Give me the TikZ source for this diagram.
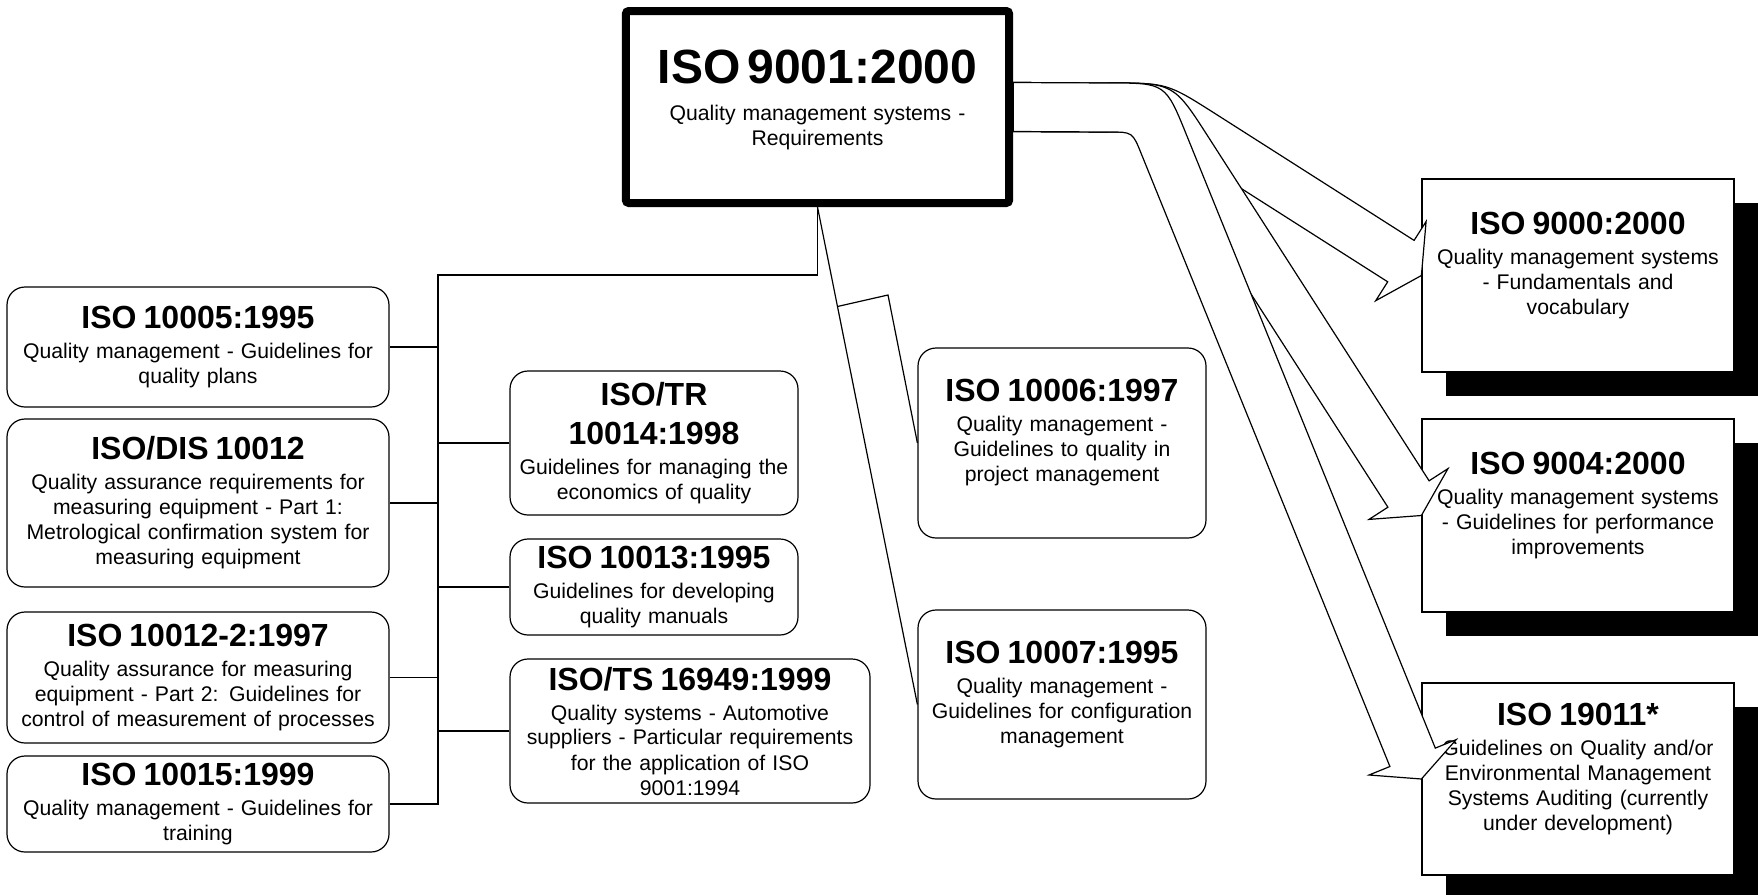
\documentclass[tikz,border=0pt]{standalone}
\usepackage{fontspec}
\setmainfont{Liberation Sans}
\usetikzlibrary{calc,shadows}
\newcommand{\isotitle}{\fontsize{16pt}{19.5pt}\selectfont\bfseries}
\newcommand{\isotext}{\fontsize{10.6pt}{12.5pt}\selectfont}
\tikzset{
  doc/.style={draw, line width=0.6pt, rounded corners=9pt, align=center, inner sep=2pt, font=\isotext},
  std/.style={draw, line width=0.6pt, fill=white, align=center, inner sep=2pt, font=\isotext,
    drop shadow={shadow xshift=12pt, shadow yshift=-12pt, fill=black, opacity=1}},
  link/.style={line width=0.6pt},
  fan/.style={draw, fill=white, line width=0.6pt},
}

\begin{document}
\begin{tikzpicture}[x=0.5pt, y=-0.5pt]
	\useasboundingbox (0,0) rectangle (1758,895);

	\node[draw, line width=4pt, rounded corners=1.5pt, minimum width=191.5pt, minimum height=96pt, text width=185pt, align=center, font=\isotext] (main) at (817.5,107)
		{{\fontsize{24pt}{28pt}\selectfont\bfseries ISO 9001:2000}\\[6pt] Quality management systems -\\ Requirements\\[-3.5pt] \mbox{}};

	\node[doc, minimum width=191pt, minimum height=60pt, text width=187pt] (n10005) at (198,347)
		{{\isotitle ISO 10005:1995}\\[2.5pt] Quality management - Guidelines for\\ quality plans};
	\node[doc, minimum width=191pt, minimum height=84pt, text width=187pt] (n10012) at (198,503)
		{{\isotitle ISO/DIS 10012}\\[2.5pt] Quality assurance requirements for\\ measuring equipment - Part 1:\\ Metrological confirmation system for\\ measuring equipment};
	\node[doc, minimum width=191pt, minimum height=65.5pt, text width=187pt] (n10012b) at (198,677.5)
		{{\isotitle ISO 10012-2:1997}\\[2.5pt] Quality assurance for measuring\\ equipment - Part 2: Guidelines for\\ control of measurement of processes};
	\node[doc, minimum width=191pt, minimum height=48pt, text width=187pt] (n10015) at (198,804)
		{{\isotitle ISO 10015:1999}\\[2.5pt] Quality management - Guidelines for\\ training};

	\node[doc, minimum width=144pt, minimum height=72pt, text width=140pt] (nTR) at (654,443)
		{{\isotitle ISO/TR\\[7pt] 10014:1998}\\[2.5pt] Guidelines for managing the\\ economics of quality};
	\node[doc, minimum width=144pt, minimum height=48pt, text width=140pt] (n10013) at (654,587)
		{{\isotitle ISO 10013:1995}\\[2.5pt] Guidelines for developing\\ quality manuals};
	\node[doc, minimum width=180pt, minimum height=72pt, text width=176pt] (nTS) at (690,731)
		{{\isotitle ISO/TS 16949:1999}\\[2.5pt] Quality systems - Automotive\\ suppliers - Particular requirements\\ for the application of ISO\\ 9001:1994};

	\node[doc, minimum width=144pt, minimum height=95pt, text width=140pt] (n10006) at (1062,443)
		{{\isotitle ISO 10006:1997}\\[2.5pt] Quality management -\\ Guidelines to quality in\\ project management\\ \mbox{}};
	\node[doc, minimum width=144pt, minimum height=94.5pt, text width=140pt] (n10007) at (1062,704.5)
		{{\isotitle ISO 10007:1995}\\[2.5pt] Quality management -\\ Guidelines for configuration\\ management\\ \mbox{}};

	\node[std, minimum width=156pt, minimum height=96.5pt, text width=152pt] (n9000) at (1578,275.5)
		{{\isotitle ISO 9000:2000}\\[2.5pt] Quality management systems\\ - Fundamentals and\\ vocabulary\\ \mbox{}};
	\node[std, minimum width=156pt, minimum height=96.5pt, text width=152pt] (n9004) at (1578,515.5)
		{{\isotitle ISO 9004:2000}\\[2.5pt] Quality management systems\\ - Guidelines for performance\\ improvements\\ \mbox{}};
	\node[std, minimum width=156pt, minimum height=96pt, text width=152pt] (n19011) at (1578,779)
		{{\isotitle ISO 19011*}\\[2.5pt] Guidelines on Quality and/or\\ Environmental Management\\ Systems Auditing (currently\\ under development)\\ \mbox{}};

	\coordinate (bus) at (438,275);
	\draw[link] (main.south) |- (bus) |- (n10015.east);
	\draw[link] (n10005.east) -- (n10005.east -| bus);
	\draw[link] (n10012.east) -- (n10012.east -| bus);
	\draw[link] (n10012b.east) -- (n10012b.east -| bus);
	\draw[link] (nTR.west) -- (nTR.west -| bus);
	\draw[link] (n10013.west) -- (n10013.west -| bus);
	\draw[link] (nTS.west) -- (nTS.west -| bus);

	\draw[link] (main.south) -- (n10007.west);
	\draw[link] ($(main.south)!0.2!(n10007.west)$) -- (888,295) -- (n10006.west);

	\filldraw[fan] ([yshift=12.25pt]main.east) -- (1109,83) .. controls (1167,83) .. (1215.9,114.1) -- (1414.1,240.4) -- (1426.1,221.5)
		-- (n9000.west) -- (1375.7,300.7) -- (1387.7,281.8) -- (1189.6,155.6) .. controls (1152.5,132) .. (1108.5,132) -- ([yshift=-12.25pt]main.east) -- cycle;
	\filldraw[fan] ([yshift=12.25pt]main.east) -- (1109,83) .. controls (1173.7,83) .. (1208.6,137.4) -- (1429.1,480.8) -- (1448,468.6)
		-- (n9004.west) -- (1369,519.4) -- (1387.9,507.2) -- (1167.4,163.8) .. controls (1147,132) .. (1109.2,132) -- ([yshift=-12.25pt]main.east) -- cycle;
	\filldraw[fan] ([yshift=12.25pt]main.east) -- (1109,83) .. controls (1165.5,83) .. (1186.7,135.4) -- (1435.3,748.1) -- (1456.2,739.6)
		-- (n19011.west) -- (1369,775) -- (1389.9,766.5) -- (1141.3,153.8) .. controls (1132.5,132) .. (1109,132) -- ([yshift=-12.25pt]main.east) -- cycle;
\end{tikzpicture}
\end{document}
